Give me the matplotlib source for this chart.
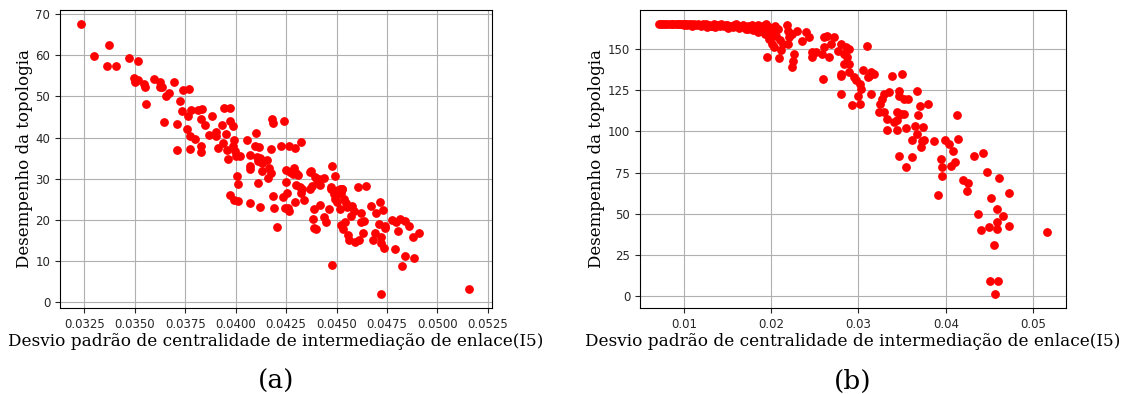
import matplotlib
matplotlib.use('Agg')
import matplotlib.pyplot as plt

plt.rcParams['font.family'] = 'DejaVu Sans'

# (a) points
a_x = [0.03235, 0.03299, 0.03373, 0.03365, 0.03409, 0.03471, 0.03514, 0.03495, 0.0350, 0.03515,
       0.03544, 0.03549, 0.03558, 0.03597, 0.03626, 0.03627, 0.03636, 0.03654, 0.03670, 0.03646,
       0.03697, 0.03709, 0.03708, 0.03724, 0.03736, 0.03741, 0.03768, 0.03763, 0.0376, 0.03772,
       0.03775, 0.03779, 0.03798, 0.03814, 0.03834, 0.03826, 0.03830, 0.03826, 0.03847, 0.03866,
       0.03881, 0.03902, 0.03905, 0.03913, 0.03933, 0.03941, 0.03939, 0.03952, 0.03955, 0.0396,
       0.03970, 0.03971, 0.03988, 0.03985, 0.03993, 0.03996, 0.04004, 0.03971, 0.03994, 0.04012,
       0.04008, 0.04014, 0.04022, 0.04058, 0.04071, 0.04069, 0.04073, 0.04071, 0.04101, 0.04094,
       0.04115, 0.04104, 0.04109, 0.0412, 0.04127, 0.04110, 0.04123, 0.04133, 0.04130, 0.04156,
       0.04159, 0.04164, 0.04177, 0.04177, 0.04178, 0.04184, 0.04185, 0.04190, 0.04206, 0.04224,
       0.04240, 0.04234, 0.04252, 0.04248, 0.04255, 0.04244, 0.04263, 0.04266, 0.04259, 0.04270,
       0.04289, 0.04296, 0.04282, 0.04301, 0.04297, 0.04292, 0.04323, 0.04311, 0.04321, 0.04328,
       0.04324, 0.04341, 0.04369, 0.04374, 0.04367, 0.04380, 0.04388, 0.04383, 0.0439, 0.04400,
       0.04395, 0.04401, 0.04412, 0.04416, 0.04419, 0.04440, 0.04438, 0.04450, 0.04464, 0.04471,
       0.04474, 0.04479, 0.04477, 0.04493, 0.04487, 0.04493, 0.04503, 0.04509, 0.04516, 0.04506,
       0.04521, 0.04526, 0.04529, 0.04516, 0.04523, 0.04531, 0.04541, 0.04538, 0.04545, 0.04552,
       0.04557, 0.04560, 0.04571, 0.04576, 0.04584, 0.04591, 0.04604, 0.04612, 0.04620, 0.04623,
       0.04631, 0.04636, 0.04646, 0.04672, 0.04679, 0.04690, 0.04695, 0.04711, 0.04714, 0.04719,
       0.04722, 0.04729, 0.04721, 0.04738, 0.0474, 0.04735, 0.04776, 0.04789, 0.04794, 0.04804,
       0.04812, 0.04823, 0.04838, 0.04841, 0.04859, 0.04878, 0.04885, 0.04906, 0.05155]
a_y = [67.7, 59.8, 62.4, 57.5, 57.3, 59.3, 58.6, 54.5, 53.4, 53.9,
       53.1, 52.2, 48.1, 54.2, 53.5, 52.3, 52.2, 50.2, 50.8, 43.8,
       53.5, 43.2, 36.9, 49.0, 46.4, 51.6, 51.8, 45.2, 42.1, 40.3,
       37.2, 46.7, 39.7, 46.6, 46.9, 44.6, 37.9, 36.5, 43.0, 40.6,
       45.2, 41.3, 40.3, 37.4, 43.0, 47.1, 38.8, 40.8, 36.9, 34.7,
       47.1, 44.0, 42.7, 38.0, 39.3, 36.8, 35.6, 26.0, 24.9, 24.5,
       30.7, 28.7, 35.5, 39.4, 35.8, 33.2, 32.3, 24.0, 41.2, 37.9,
       37.8, 35.3, 34.2, 35.1, 34.5, 28.9, 23.2, 33.9, 31.9, 34.5,
       30.3, 32.6, 31.5, 37.2, 44.6, 43.6, 25.8, 22.9, 18.4, 37.9,
       44.0, 25.6, 32.1, 29.3, 26.6, 22.8, 38.0, 22.1, 22.9, 31.7,
       32.5, 37.5, 31.2, 31.3, 28.4, 24.4, 39.0, 30.9, 28.1, 27.6,
       26.6, 24.8, 31.7, 31.9, 27.6, 28.3, 22.7, 20.2, 18.1, 17.7,
       30.5, 29.7, 29.9, 28.5, 23.6, 30.1, 20.7, 19.4, 22.6, 27.9,
       27.6, 33.2, 9.1, 30.7, 26.2, 25.0, 24.4, 27.2, 27.6, 26.4,
       26.6, 27.4, 27.6, 22.6, 18.7, 17.7, 19.4, 25.0, 24.0, 23.2,
       16.3, 15.2, 21.0, 23.3, 22.2, 14.6, 28.0, 15.2, 19.5, 21.6,
       16.9, 19.8, 28.2, 23.5, 15.2, 16.8, 21.6, 18.9, 24.4, 14.5,
       15.8, 22.3, 1.9, 18.5, 18.0, 13.2, 20.0, 13.0, 19.4, 17.3,
       20.3, 8.7, 19.7, 11.3, 18.6, 15.8, 10.7, 16.8, 3.2]

# (b) points: flat band on top, then the falling cloud
b_x = [0.0072, 0.0074, 0.0076, 0.0079, 0.0081, 0.0084, 0.0086, 0.0088, 0.0091, 0.0093,
       0.0095, 0.0097, 0.0099, 0.0101, 0.0103, 0.0104, 0.0106, 0.0108, 0.0110, 0.0112,
       0.0114, 0.0116, 0.0118, 0.0120, 0.0122, 0.0124, 0.0127, 0.0129, 0.0131, 0.0134,
       0.0136, 0.0138, 0.0141, 0.0143, 0.0146, 0.0148, 0.0151, 0.0153, 0.0156, 0.0158,
       0.0161, 0.0163, 0.0166, 0.0169, 0.0171, 0.0174, 0.0176, 0.0179, 0.0182, 0.0185,
       0.0188, 0.0191, 0.0100, 0.0109, 0.0125, 0.0132, 0.0140, 0.0150, 0.0160, 0.0168,
       0.0178, 0.0194, 0.0197,
       0.01811, 0.01868, 0.01894, 0.01925, 0.01932, 0.01974, 0.02008, 0.02031, 0.02046, 0.02076,
       0.02061, 0.02107, 0.02133, 0.02114, 0.02179, 0.02190, 0.02209, 0.02198, 0.01955, 0.02088,
       0.02001, 0.02020, 0.01963, 0.01849, 0.01735, 0.01773,
       0.02244, 0.02301, 0.02359, 0.02397, 0.02435, 0.02263, 0.02256, 0.02244, 0.02473, 0.02473,
       0.02511, 0.02607, 0.02645, 0.02721, 0.02683, 0.02607, 0.02588, 0.02664, 0.02760, 0.02798,
       0.02855, 0.02893, 0.02836, 0.02874, 0.02836, 0.02893, 0.02798, 0.02798, 0.02893, 0.02595,
       0.03103, 0.03053, 0.02950, 0.02969, 0.03015, 0.03027, 0.03122, 0.03141, 0.03179, 0.03111,
       0.02805, 0.02924, 0.02989, 0.03019, 0.03141, 0.03389, 0.03504, 0.03294, 0.03351, 0.03275,
       0.03248, 0.03237, 0.03294, 0.03332, 0.03332, 0.03408, 0.03439, 0.03447, 0.03485, 0.03523,
       0.03466, 0.03466, 0.03523, 0.03573, 0.03676, 0.03706, 0.03683, 0.03447, 0.03546, 0.03645,
       0.03668, 0.03740, 0.03798, 0.03752, 0.03733, 0.03714, 0.03618, 0.03866, 0.03996, 0.04034,
       0.04080, 0.04141, 0.04130, 0.03469, 0.03611, 0.03550, 0.03950, 0.03961, 0.04057, 0.04107,
       0.03909, 0.03955, 0.04192, 0.04257, 0.04238, 0.04321, 0.04423, 0.04468, 0.04611, 0.04725,
       0.04517, 0.04592, 0.04370, 0.04657, 0.04585, 0.04494, 0.04400, 0.04585, 0.04725, 0.04551,
       0.05155, 0.04502, 0.04596, 0.04558]
b_y = [165.5, 165.4, 165.5, 165.3, 165.5, 165.4, 165.2, 165.5, 165.3, 165.5,
       165.0, 165.4, 165.2, 165.5, 165.1, 164.6, 165.3, 165.0, 164.8, 165.3,
       164.5, 165.1, 164.9, 164.2, 165.0, 164.6, 163.6, 164.9, 164.3, 165.0,
       163.4, 164.6, 164.1, 165.0, 163.8, 164.5, 162.9, 164.3, 163.5, 164.8,
       163.9, 162.8, 164.2, 163.3, 162.4, 164.0, 163.0, 161.8, 163.4, 164.5,
       162.6, 163.8, 164.7, 164.3, 165.3, 163.9, 164.9, 164.7, 165.0, 164.9,
       164.6, 165.0, 163.5,
       162.1, 163.5, 161.1, 164.8, 159.1, 156.1, 153.1, 151.0, 164.1, 162.1,
       158.1, 155.5, 153.1, 149.4, 164.8, 160.8, 157.1, 153.1, 145.0, 144.4,
       157.1, 160.1, 162.1, 160.1, 162.1, 164.1,
       159.1, 161.1, 155.0, 160.1, 157.1, 147.0, 142.9, 138.9, 148.0, 145.4,
       148.0, 157.1, 158.1, 157.1, 153.0, 151.0, 147.0, 145.0, 149.0, 153.0,
       151.0, 150.0, 147.0, 145.0, 140.9, 140.9, 134.9, 133.9, 135.9, 131.9,
       152.0, 137.3, 132.9, 131.3, 128.8, 125.8, 133.9, 135.9, 134.9, 132.9,
       122.8, 115.9, 121.8, 116.7, 122.8, 133.5, 134.9, 122.8, 123.8, 119.8,
       116.7, 111.7, 111.7, 107.7, 100.6, 105.6, 106.7, 111.7, 110.7, 110.7,
       124.8, 121.8, 119.8, 119.4, 124.8, 115.3, 109.7, 101.0, 102.2, 103.0,
       98.6, 102.6, 116.7, 95.0, 94.2, 90.5, 95.0, 94.0, 94.6, 92.5,
       88.1, 95.6, 109.7, 84.9, 84.5, 78.4, 83.5, 78.4, 78.8, 81.5,
       61.3, 73.0, 70.4, 68.8, 64.1, 85.1, 87.1, 75.4, 72.0, 62.3,
       59.7, 52.8, 50.0, 48.6, 45.2, 41.7, 40.3, 40.9, 42.5, 30.8,
       38.7, 9.3, 9.3, 1.0]

xlabel = 'Desvio padrão de centralidade de intermediação de enlace(I5)'
ylabel = 'Desempenho da topologia'

fig = plt.figure(figsize=(11.24, 3.94), dpi=100)
ax1 = fig.add_axes([0.0534, 0.2183, 0.3843, 0.7563])
ax2 = fig.add_axes([0.5694, 0.2183, 0.379, 0.7563])

for ax, xs, ys, tag in [(ax1, a_x, a_y, '(a)'), (ax2, b_x, b_y, '(b)')]:
    ax.scatter(xs, ys, s=28, color='red', zorder=3)
    ax.grid(True, color='#b0b0b0', linewidth=0.8)
    ax.set_axisbelow(True)
    ax.tick_params(labelsize=8.5, colors='#262626', labelcolor='#262626')
    ax.set_xlabel(xlabel, family='DejaVu Serif', fontsize=12.2, labelpad=2)
    ax.set_ylabel(ylabel, family='DejaVu Serif', fontsize=12, labelpad=2)
    ax.text(0.5, -0.245, tag, transform=ax.transAxes, ha='center', va='center',
            family='DejaVu Serif', fontsize=19)

ax1.set_xlim(0.0313, 0.0527)
ax1.set_yticks([0, 10, 20, 30, 40, 50, 60, 70])
ax2.set_yticks([0, 25, 50, 75, 100, 125, 150])

fig.savefig('out.png', dpi=100)
